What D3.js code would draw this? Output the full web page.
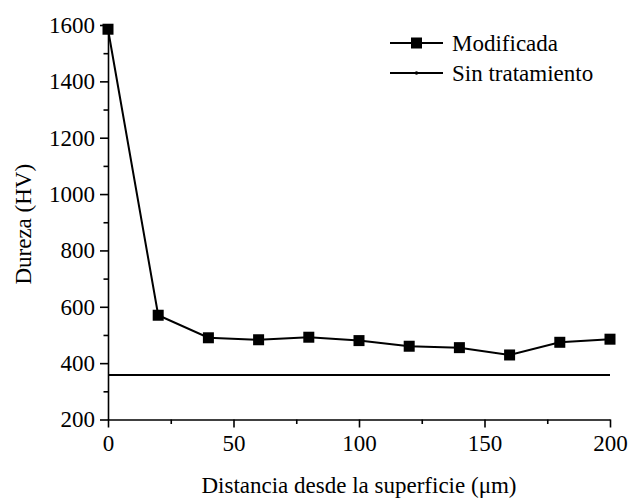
<!DOCTYPE html>
<html>
<head>
<meta charset="utf-8">
<script src="https://cdn.jsdelivr.net/npm/d3@7/dist/d3.min.js"></script>
<style>
  body { margin: 0; background: #fff; }
  svg text { font-family: "Liberation Serif", "Times New Roman", serif !important; fill: #000; }
</style>
</head>
<body>
<svg id="svg" width="629" height="498"></svg>
<script>
// data
var distancia = [0, 20, 40, 60, 80, 100, 120, 140, 160, 180, 200];
var modificada = [1585, 570, 490, 483, 492, 480, 460, 455, 429, 474, 485];
var sinTratamiento = [358, 358, 358, 358, 358, 358, 358, 358, 358, 358, 358];
var xTicks = [0, 50, 100, 150, 200];
var yTicks = [200, 400, 600, 800, 1000, 1200, 1400, 1600];
var seriesNames = ["Modificada", "Sin tratamiento"];

var svg = d3.select("#svg"),
  margin = {top: 25, right: 19, bottom: 78.5, left: 108},
  width = svg.attr("width") - margin.left - margin.right,
  height = svg.attr("height") - margin.top - margin.bottom,
  g = svg.append("g")
    .attr("transform", "translate(" + margin.left + "," + margin.top + ")");

var x = d3.scaleLinear().domain([0, 200]).range([0, width]),
    y = d3.scaleLinear().domain([200, 1600]).range([height, 0]);

var fontSize = 23;

// minor ticks
g.append("g")
  .attr("transform", "translate(0," + height + ")")
  .call(d3.axisBottom(x).tickValues([25, 75, 125, 175]).tickSize(4.5).tickFormat(""))
  .call(function (s) { s.select(".domain").remove(); });

g.append("g")
  .call(d3.axisLeft(y).tickValues([300, 500, 700, 900, 1100, 1300, 1500]).tickSize(4.5).tickFormat(""))
  .call(function (s) { s.select(".domain").remove(); });

// major axes
var xAxis = g.append("g")
  .attr("transform", "translate(0," + height + ")")
  .call(d3.axisBottom(x).tickValues(xTicks).tickFormat(d3.format("d"))
    .tickSize(8).tickSizeOuter(0).tickPadding(7));

var yAxis = g.append("g")
  .call(d3.axisLeft(y).tickValues(yTicks).tickFormat(d3.format("d"))
    .tickSize(8).tickSizeOuter(0).tickPadding(5));

g.selectAll(".tick line, .domain")
  .attr("stroke", "#000")
  .attr("stroke-width", 1.6);

g.selectAll("g").attr("font-family", null);
g.selectAll(".tick text")
  .style("font-family", "'Liberation Serif', serif")
  .attr("font-size", fontSize);

// axis titles
svg.append("text")
  .attr("x", margin.left + width / 2)
  .attr("y", 493)
  .attr("text-anchor", "middle")
  .attr("font-size", fontSize)
  .text("Distancia desde la superficie (\u03bcm)");

svg.append("text")
  .attr("transform", "translate(31," + (margin.top + height / 2 + 2) + ") rotate(-90)")
  .attr("text-anchor", "middle")
  .attr("font-size", fontSize)
  .text("Dureza (HV)");

// lines
var line = d3.line()
  .x(function (d) { return x(d.x); })
  .y(function (d) { return y(d.y); });

var modData = distancia.map(function (d, i) { return {x: d, y: modificada[i]}; });
var sinData = distancia.map(function (d, i) { return {x: d, y: sinTratamiento[i]}; });

g.append("path")
  .attr("d", line(sinData))
  .attr("fill", "none")
  .attr("stroke", "#000")
  .attr("stroke-width", 2);

g.append("path")
  .attr("d", line(modData))
  .attr("fill", "none")
  .attr("stroke", "#000")
  .attr("stroke-width", 2);

var msize = 11;
g.selectAll(".mark")
  .data(modData)
  .enter()
  .append("rect")
  .attr("class", "mark")
  .attr("x", function (d) { return x(d.x) - msize / 2; })
  .attr("y", function (d) { return y(d.y) - msize / 2; })
  .attr("width", msize)
  .attr("height", msize)
  .attr("fill", "#000");

// legend
var legend = svg.append("g")
  .selectAll("g")
  .data(seriesNames)
  .enter()
  .append("g")
  .attr("transform", function (d, i) { return "translate(390," + (43 + i * 30) + ")"; });

legend.append("line")
  .attr("x1", 0).attr("x2", 53)
  .attr("stroke", "#000")
  .attr("stroke-width", 2);

legend.filter(function (d, i) { return i === 0; })
  .append("rect")
  .attr("x", 26.5 - msize / 2).attr("y", -msize / 2)
  .attr("width", msize).attr("height", msize)
  .attr("fill", "#000");

legend.filter(function (d, i) { return i === 1; })
  .append("circle")
  .attr("cx", 26.5).attr("r", 1.8)
  .attr("fill", "#000");

legend.append("text")
  .attr("x", 62)
  .attr("dy", "0.35em")
  .attr("font-size", fontSize)
  .text(function (d) { return d; });
</script>
</body>
</html>
